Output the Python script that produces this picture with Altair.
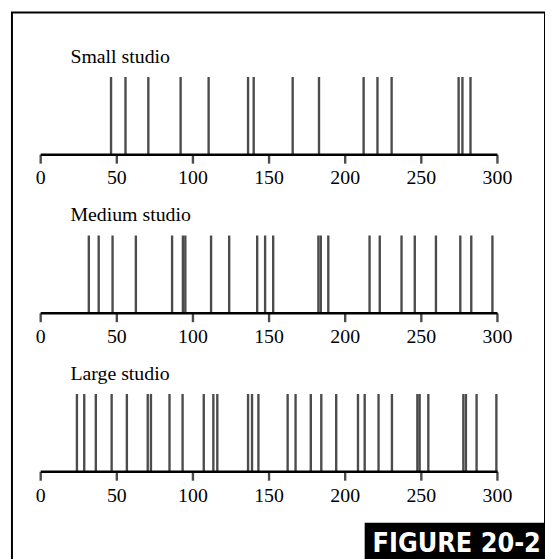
import altair as alt
import pandas as pd

studios = ["Small studio", "Medium studio", "Large studio"]

small = [46.2, 55.7, 70.7, 91.9, 110.3, 136.2, 139.9, 165.5, 182.8, 212.1,
         221.2, 230.5, 274.5, 277.0, 282.3]
medium = [31.6, 38.1, 47.2, 62.5, 86.3, 93.4, 95.0, 111.9, 123.8, 142.2, 147.4,
          152.7, 182.4, 184.0, 188.9, 216.0, 222.7, 237.0, 245.7, 259.6, 275.6,
          282.8, 296.7]
large = [23.8, 28.6, 36.2, 46.6, 56.6, 70.3, 72.4, 84.6, 93.2, 107.1, 113.4,
         116.0, 136.2, 138.8, 143.0, 162.2, 167.4, 177.4, 184.3, 194.1, 208.4,
         212.8, 221.9, 230.7, 247.4, 248.9, 254.6, 277.6, 279.3, 286.3, 299.3]

ticks = [0, 50, 100, 150, 200, 250, 300]
figure_label = "FIGURE 20-2"

events = pd.DataFrame({
    "studio": [studios[0]] * len(small) + [studios[1]] * len(medium) + [studios[2]] * len(large),
    "t": small + medium + large,
})
axis_df = pd.DataFrame({"studio": studios, "start": [ticks[0]] * 3, "end": [ticks[-1]] * 3})
tick_df = pd.DataFrame([{"studio": s, "v": v} for s in studios for v in ticks])
title_df = pd.DataFrame({"studio": studios})
label_df = pd.DataFrame({"label": [figure_label]})

xs = alt.Scale(domain=[0, 300], range=[29, 490])
ys = alt.Scale(domain=studios, range=[24.5, 504.5], paddingInner=0, paddingOuter=0)
Y = alt.Y("studio:N", scale=ys, axis=None)

SERIF = "Liberation Serif"

event_layer = alt.Chart(events).mark_tick(size=79, thickness=2.4, color="black").encode(
    x=alt.X("t:Q", scale=xs, axis=None), y=Y)

axis_layer = alt.Chart(axis_df).mark_rule(color="black", strokeWidth=2.4, yOffset=39).encode(
    x=alt.X("start:Q", scale=xs, axis=None), x2="end:Q", y=Y)

tick_layer = alt.Chart(tick_df).mark_tick(size=9, thickness=2.4, color="black", yOffset=43.5).encode(
    x=alt.X("v:Q", scale=xs, axis=None), y=Y)

label_layer = alt.Chart(tick_df).mark_text(
    font=SERIF, fontSize=20, color="black", yOffset=63, baseline="middle", align="center"
).encode(x=alt.X("v:Q", scale=xs, axis=None), y=Y, text=alt.Text("v:Q"))

title_layer = alt.Chart(title_df).mark_text(
    font=SERIF, fontSize=20, color="black", yOffset=-60, baseline="middle", align="left"
).encode(x=alt.value(59), y=Y, text="studio:N")

box_layer = alt.Chart(label_df).mark_rect(color="black").encode(
    x=alt.value(356), x2=alt.value(539), y=alt.value(515), y2=alt.value(562))

fig_text = alt.Chart(label_df).mark_text(
    font="DejaVu Sans Condensed", fontWeight="bold", fontSize=27,
    color="white", align="left", baseline="alphabetic"
).encode(x=alt.value(364), y=alt.value(544), text="label:N")

chart = alt.layer(
    event_layer, axis_layer, tick_layer, label_layer, title_layer, box_layer, fig_text
).properties(
    width=538, height=560,
    autosize=alt.AutoSizeParams(type="none"),
    padding={"left": 4, "top": 2, "right": 0, "bottom": 0},
    background="white",
).configure_view(stroke="black", strokeWidth=2)

chart.save("out.html", embed_options={"renderer": "svg", "actions": False})
